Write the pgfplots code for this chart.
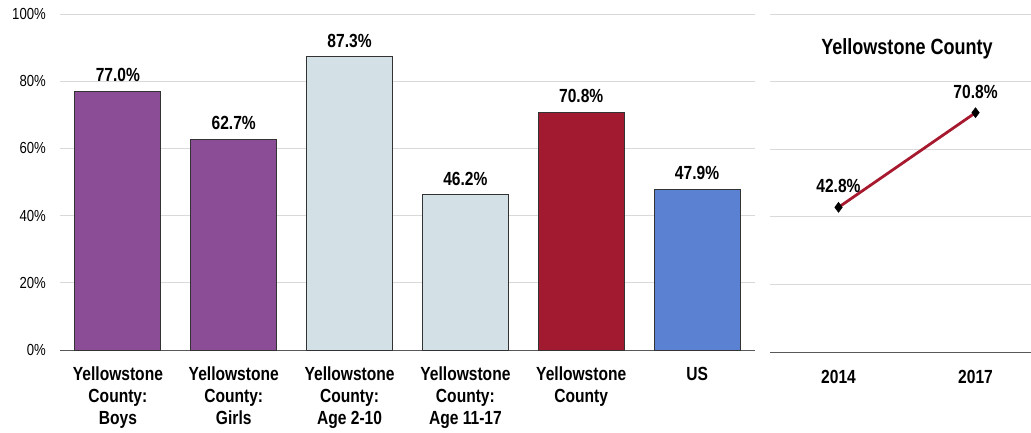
\documentclass[border=0pt]{standalone}
\usepackage{fontspec}
\setmainfont{Liberation Sans}[FakeStretch=0.82]
\usepackage{pgfplots}
\pgfplotsset{compat=1.18}
\pgfplotsset{/pgf/number format/assume math mode=true}
\definecolor{cpurple}{HTML}{8C4D97}
\definecolor{clight}{HTML}{D3E1E7}
\definecolor{ccrimson}{HTML}{A21A30}
\definecolor{cblue}{HTML}{5B82D2}
\definecolor{cline}{HTML}{A6192E}
\definecolor{cgrid}{HTML}{D9D9D9}
\definecolor{caxis}{HTML}{595959}
\definecolor{cborder}{HTML}{333333}
\begin{document}
\begin{tikzpicture}
\useasboundingbox (0,0) rectangle (1031pt,432pt);
\pgfplotsset{
  mybar/.style={ybar, bar width=86pt, draw=cborder, line width=0.9pt, fill=#1,
    nodes near coords={\pgfmathprintnumber[fixed,fixed zerofill,precision=1]{\pgfplotspointmeta}\%},
    nodes near coords style={font=\fontsize{19}{22}\selectfont\bfseries, anchor=south, inner sep=0pt, yshift=9pt, text=black}},
}
\begin{axis}[
  at={(60pt,82pt)}, anchor=south west, scale only axis,
  width=695pt, height=336pt,
  xmin=-0.5, xmax=5.5, ymin=0, ymax=100,
  separate axis lines,
  axis x line*=bottom, axis y line*=left,
  y axis line style={draw=none},
  x axis line style={draw=caxis, line width=1pt, -},
  major tick length=0pt,
  ymajorgrids, grid style={draw=cgrid, line width=0.8pt},
  ytick={0,20,40,60,80,100},
  yticklabels={0\%,20\%,40\%,60\%,80\%,100\%},
  yticklabel style={font=\fontsize{16}{19}\selectfont, inner sep=0pt, xshift=-14pt},
  xtick={0,1,2,3,4,5},
  xticklabels={{Yellowstone\\County:\\Boys},{Yellowstone\\County:\\Girls},{Yellowstone\\County:\\Age 2-10},{Yellowstone\\County:\\Age 11-17},{Yellowstone\\County},{US}},
  xticklabel style={font=\fontsize{19}{21.7}\selectfont\bfseries, align=center, inner sep=0pt, yshift=-17pt},
  clip=false,
]
\addplot[mybar=cpurple] coordinates {(0,77.0) (1,62.7)};
\addplot[mybar=clight] coordinates {(2,87.3) (3,46.2)};
\addplot[mybar=ccrimson] coordinates {(4,70.8)};
\addplot[mybar=cblue] coordinates {(5,47.9)};
\end{axis}
\begin{axis}[
  at={(770pt,80pt)}, anchor=south west, scale only axis,
  width=261pt, height=338pt,
  xmin=-0.5, xmax=1.405, ymin=0, ymax=100,
  separate axis lines,
  axis x line*=bottom, axis y line*=left,
  y axis line style={draw=none},
  x axis line style={draw=caxis, line width=1pt, -},
  major tick length=0pt,
  ymajorgrids, grid style={draw=cgrid, line width=0.8pt},
  ytick={0,20,40,60,80,100},
  yticklabels={},
  xtick={0,1},
  xticklabels={2014,2017},
  xticklabel style={font=\fontsize{19}{21.7}\selectfont\bfseries, inner sep=0pt, yshift=-18pt},
  clip=false,
]
\addplot[color=cline, line width=2.8pt, mark=diamond*, mark size=5pt,
  mark options={fill=black, draw=black, line width=0.5pt},
  nodes near coords={\pgfmathprintnumber[fixed,fixed zerofill,precision=1]{\pgfplotspointmeta}\%},
  nodes near coords style={font=\fontsize{19}{22}\selectfont\bfseries, anchor=south, inner sep=0pt, yshift=14pt, text=black}]
  coordinates {(0,42.8) (1,70.8)};
\end{axis}
\node[font=\fontsize{22}{26}\selectfont\bfseries] at (907pt,383pt) {Yellowstone County};
\end{tikzpicture}
\end{document}
